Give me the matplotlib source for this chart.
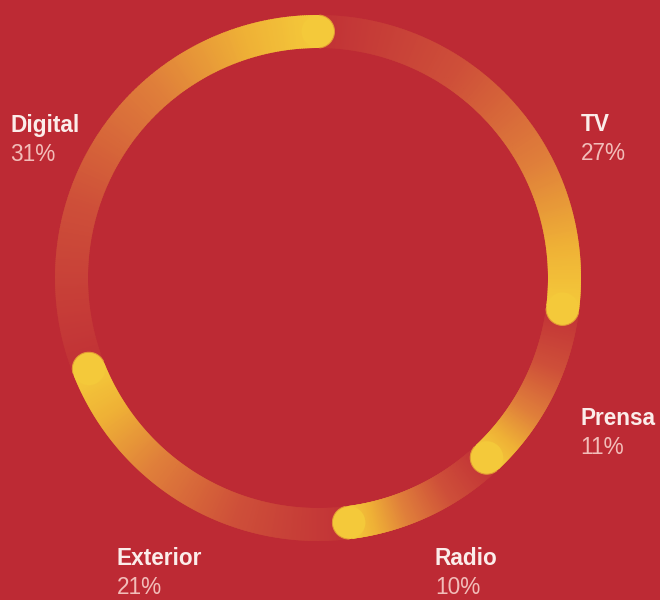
import numpy as np
import matplotlib.pyplot as plt
from matplotlib.patches import Wedge, Arc, Circle
from matplotlib.colors import LinearSegmentedColormap

# Share of ad spend by medium, clockwise from 12 o'clock
categories = ['TV', 'Prensa', 'Radio', 'Exterior', 'Digital']
shares = [27, 11, 10, 21, 31]

bg = '#BD2A34'
ramp = LinearSegmentedColormap.from_list(
    'ramp', [(0.0, '#C13136'), (0.35, '#CE4F39'), (0.65, '#E0803A'),
             (0.86, '#EFB236'), (1.0, '#F4C93A')])

fig = plt.figure(figsize=(6.6, 6.0), dpi=100, facecolor=bg)
ax = fig.add_axes([0, 0, 1, 1])
ax.set_facecolor(bg)
ax.set_xlim(0, 660)
ax.set_ylim(0, 600)
ax.set_aspect('equal')
ax.axis('off')

cx, cy = 318, 322
r_out, width = 263, 33
r_mid = r_out - width / 2

total = sum(shares)
cum = np.cumsum([0] + shares) / total
n = 240
for i, cat in enumerate(categories):
    a0 = 90 - 360 * cum[i]
    a1 = 90 - 360 * cum[i + 1]
    edges = np.linspace(a0, a1, n + 1)
    for k in range(n):
        c = ramp(k / (n - 1))
        ax.add_patch(Wedge((cx, cy), r_out, edges[k + 1], edges[k] + 0.3,
                           width=width, facecolor=c, edgecolor='none', zorder=2))
    # rounded cap at the end of each segment
    t = np.deg2rad(a1)
    ex, ey = cx + r_mid * np.cos(t), cy + r_mid * np.sin(t)
    ax.add_patch(Circle((ex, ey), width / 2, facecolor=ramp(1.0),
                        edgecolor='none', zorder=3))
    ax.add_patch(Arc((ex, ey), width, width, theta1=a1 - 175, theta2=a1 - 5,
                     color='#E39A34', lw=0.7, zorder=4))

# label baselines (pixels from top-left)
label_pos = {'Digital': (10, 132), 'TV': (581, 131), 'Prensa': (580, 425),
             'Exterior': (117, 565), 'Radio': (435, 565)}
for cat, val in zip(categories, shares):
    x, y = label_pos[cat]
    ax.text(x, 600 - y, cat, fontsize=16.3, fontweight='bold', color='#FBEDEA',
            family='Liberation Sans', va='baseline', ha='left')
    ax.text(x, 600 - y - 29, f'{val}%', fontsize=16.3, color='#F2BDB9',
            family='Liberation Sans', va='baseline', ha='left')

fig.savefig('out.png', dpi=100, facecolor=bg)
